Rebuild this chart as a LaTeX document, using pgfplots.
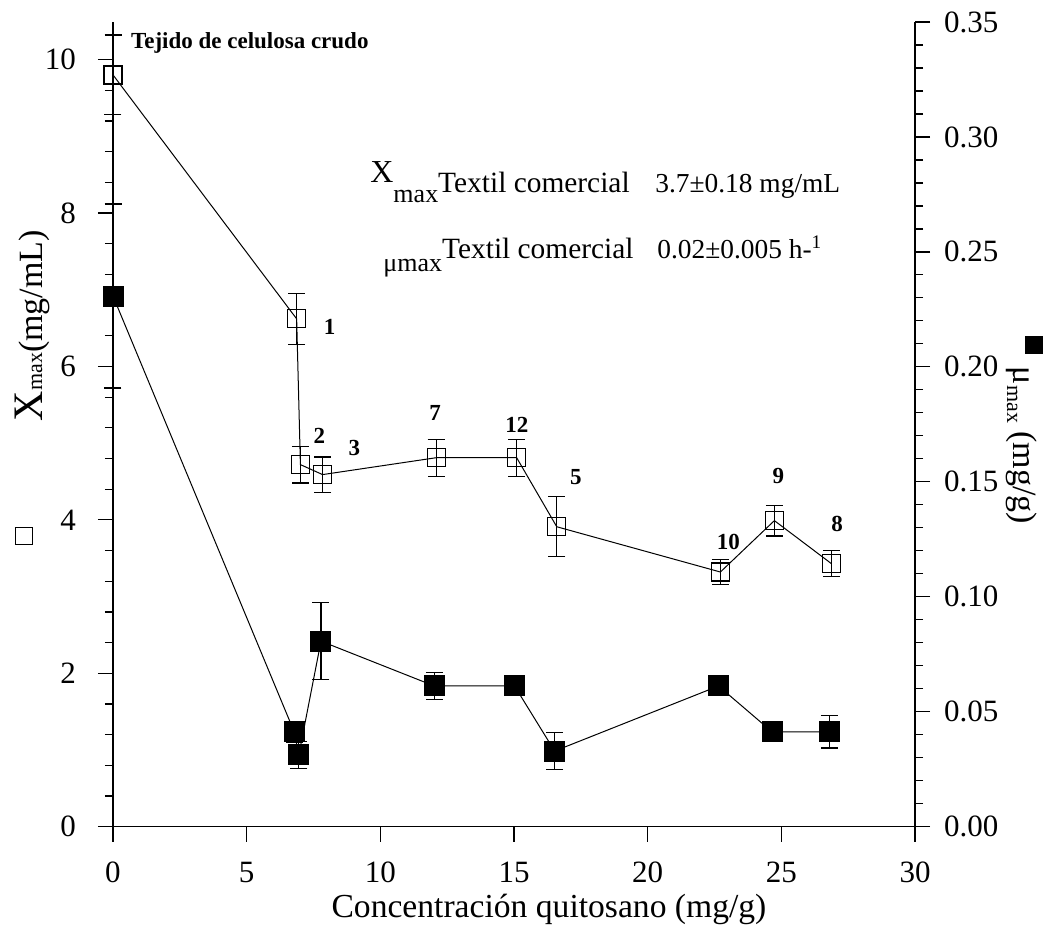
\documentclass[border=0pt]{standalone}
\usepackage{fontspec}
\setmainfont{Liberation Serif}
\usepackage{pgfplots}
\pgfplotsset{compat=1.18}
\newcommand{\fs}[1]{\fontsize{#1}{#1}\selectfont}
\begin{document}
\begin{tikzpicture}
\pgfplotsset{common/.style={
  scale only axis, width=401pt, height=402.35pt,
  xmin=0, xmax=30,
  axis line style={line width=0.75pt},
  tick align=outside,
  major tick length=7.5pt, minor tick length=4pt,
  every tick/.style={black, line width=0.6pt},
  tick label style={font=\fs{15.5}},
  /pgf/number format/assume math mode=true,
  clip=false,
}}
\begin{axis}[common, name=main,
  ymin=0, ymax=10.49,
  axis x line*=bottom, axis y line*=left,
  xtick={0,5,10,15,20,25,30},
  ytick={0,2,4,6,8,10},
  minor y tick num=4,
  xticklabel style={yshift=-6.5pt},
  yticklabel style={xshift=-7.5pt},
]
\addplot[black, line width=0.5pt, mark=square, mark size=4.5pt,
  mark options={solid, line width=0.6pt},
  error bars/.cd, y dir=both, y explicit,
  error bar style={line width=0.6pt},
  error mark options={rotate=90, black, mark size=4.25pt, line width=0.6pt}]
coordinates {
 (0,9.80) +- (0,0.52)
 (6.87,6.62) +- (0,0.33)
 (7.01,4.72) +- (0,0.24)
 (7.84,4.59) +- (0,0.23)
 (12.09,4.81) +- (0,0.24)
 (15.10,4.81) +- (0,0.24)
 (16.60,3.91) +- (0,0.39)
 (22.72,3.32) +- (0,0.16)
 (24.74,3.99) +- (0,0.20)
 (26.87,3.43) +- (0,0.17)
};
\begin{scope}[every node/.style={font=\bfseries\fs{11.5}}]
\node at (axis cs:8.10,6.52) {1};
\node at (axis cs:7.72,5.09) {2};
\node at (axis cs:9.03,4.94) {3};
\node at (axis cs:12.05,5.39) {7};
\node at (axis cs:15.11,5.24) {12};
\node at (axis cs:17.31,4.56) {5};
\node at (axis cs:23.02,3.71) {10};
\node at (axis cs:24.89,4.57) {9};
\node at (axis cs:27.09,3.95) {8};
\node[anchor=west] at (axis description cs:0.0137,0.974) {Tejido de celulosa crudo};
\end{scope}
% annotations
\node[anchor=base west, inner sep=0pt] at (axis description cs:0.3204,0.80)
  {\fs{16}X\raisebox{-10pt}{\fs{13}max}\raisebox{-5pt}{\fs{14.7}Textil comercial}};
\node[anchor=base west, inner sep=0pt, font=\fs{13.7}] at (axis description cs:0.6758,0.7875)
  {3.7±0.18 mg/mL};
\node[anchor=base west, inner sep=0pt] at (axis description cs:0.3367,0.7055)
  {\raisebox{-6.5pt}{\fs{13}μmax}\fs{14.7}Textil comercial};
\node[anchor=base west, inner sep=0pt, font=\fs{13.7}] at (axis description cs:0.6783,0.7055)
  {0.02±0.005 h-\textsuperscript{1}};
% axis labels
\node[anchor=base, rotate=90, inner sep=0pt] at (axis description cs:-0.0885,0.6228)
  {\fs{21}X\fs{11}max\fs{17}(mg/mL)};
\node[inner sep=0pt] at (axis description cs:-0.111,0.3613)
  {\setlength{\fboxsep}{0pt}\setlength{\fboxrule}{0.6pt}\fbox{\rule{0pt}{8pt}\hspace{8pt}}};
\node[anchor=center, inner sep=0pt, font=\fs{16.8}] at (axis description cs:0.5436,-0.103)
  {Concentración quitosano (mg/g)};
\node[anchor=base, rotate=-90, inner sep=0pt] at (axis description cs:1.1222,0.493)
  {\raisebox{6pt}{\rule{9pt}{9pt}}\hspace{6.5pt}\fs{17}μ\raisebox{-3pt}{\fs{11}max} (mg/g)};
\end{axis}
\begin{axis}[common,
  ymin=0, ymax=0.35,
  axis x line=none, axis y line*=right,
  ytick={0,0.05,0.1,0.15,0.2,0.25,0.3,0.35},
  minor y tick num=4,
  yticklabel style={xshift=3.5pt, /pgf/number format/.cd, fixed, fixed zerofill, precision=2},
]
\addplot[black, line width=0.5pt, mark=square*, mark size=5pt,
  mark options={solid, fill=black},
  error bars/.cd, y dir=both, y explicit,
  error bar style={line width=0.6pt},
  error mark options={rotate=90, black, mark size=4.25pt, line width=0.6pt}]
coordinates {
 (0,0.2308) +- (0,0.040)
 (6.78,0.0412) +- (0,0.0045)
 (6.95,0.0312) +- (0,0.006)
 (7.78,0.0807) +- (0,0.0167)
 (12.02,0.0612) +- (0,0.006)
 (15.02,0.0612) +- (0,0)
 (16.52,0.0329) +- (0,0.008)
 (22.65,0.0612) +- (0,0)
 (24.66,0.0412) +- (0,0)
 (26.80,0.0412) +- (0,0.007)
};
\end{axis}
\pgfresetboundingbox
\path (main.south west) ++(-56.5pt,-51.15pt) rectangle ([xshift=68pt,yshift=11pt]main.north east);
\end{tikzpicture}
\end{document}
